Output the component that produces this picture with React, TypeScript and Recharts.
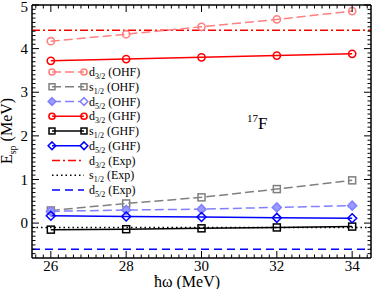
import { LineChart, Line, XAxis, YAxis, ReferenceLine, Legend, Customized } from 'recharts';

const FONT = '"Liberation Serif", "DejaVu Serif", serif';

// plot frame (pixels inside the 374x289 svg)
const PL = 32;
const PR = 371;
const PT = 5;
const PB = 258;

// data
const HW = [26, 28, 30, 32, 34];
const D32_OHF = [4.17, 4.33, 4.5, 4.67, 4.86];
const S12_OHF = [0.29, 0.45, 0.59, 0.78, 0.98];
const D52_OHF = [0.27, 0.3, 0.32, 0.36, 0.4];
const D32_GHF = [3.72, 3.76, 3.8, 3.84, 3.88];
const S12_GHF = [-0.15, -0.14, -0.12, -0.1, -0.08];
const D52_GHF = [0.17, 0.15, 0.14, 0.12, 0.11];
const EXP_VALUES = [4.42, -0.1, -0.6]; // d3/2, s1/2, d5/2

const X_MAJOR = [26, 28, 30, 32, 34];
const Y_MAJOR = [0, 1, 2, 3, 4, 5];
const X_TICKS: number[] = [];
for (let i = 0; i <= 44; i++) X_TICKS.push(Math.round((25.6 + i * 0.2) * 10) / 10);
const Y_TICKS: number[] = [];
for (let i = 0; i <= 57; i++) Y_TICKS.push(Math.round((-0.7 + i * 0.1) * 10) / 10);

const data = HW.map((x, i) => ({
  x,
  d32o: D32_OHF[i],
  s12o: S12_OHF[i],
  d52o: D52_OHF[i],
  d32g: D32_GHF[i],
  s12g: S12_GHF[i],
  d52g: D52_GHF[i],
}));

type Shape = 'circle' | 'square' | 'diamond' | 'none';

const SERIES = [
  { key: 'd32o', orb: 'd', sub: '3/2', tag: 'OHF', color: '#ff8080', dash: '9 4', shape: 'circle' as Shape, fill: 'none' },
  { key: 's12o', orb: 's', sub: '1/2', tag: 'OHF', color: '#808080', dash: '9 4', shape: 'square' as Shape, fill: 'none' },
  { key: 'd52o', orb: 'd', sub: '5/2', tag: 'OHF', color: '#8080ff', dash: '9 4', shape: 'diamond' as Shape, fill: '#9a9aff' },
  { key: 'd32g', orb: 'd', sub: '3/2', tag: 'GHF', color: '#ff0000', dash: undefined, shape: 'circle' as Shape, fill: 'none' },
  { key: 's12g', orb: 's', sub: '1/2', tag: 'GHF', color: '#000000', dash: undefined, shape: 'square' as Shape, fill: 'none' },
  { key: 'd52g', orb: 'd', sub: '5/2', tag: 'GHF', color: '#0000ff', dash: undefined, shape: 'diamond' as Shape, fill: 'none' },
];

const EXP = [
  { orb: 'd', sub: '3/2', tag: 'Exp', color: '#ff0000', dash: '8 3 2 3' },
  { orb: 's', sub: '1/2', tag: 'Exp', color: '#000000', dash: '1.5 3' },
  { orb: 'd', sub: '5/2', tag: 'Exp', color: '#0000ff', dash: '8 5' },
];

function Marker({ cx, cy, shape, color, fill, s = 1 }: { cx: number; cy: number; shape: Shape; color: string; fill: string; s?: number }) {
  if (shape === 'circle') return <circle cx={cx} cy={cy} r={3.6 * s} stroke={color} strokeWidth={1.6} fill={fill} />;
  if (shape === 'square')
    return <rect x={cx - 3.5 * s} y={cy - 3.5 * s} width={7 * s} height={7 * s} stroke={color} strokeWidth={1.5} fill={fill} />;
  if (shape === 'diamond') {
    const d = 4.5 * s;
    return (
      <polygon
        points={`${cx},${cy - d} ${cx + d},${cy} ${cx},${cy + d} ${cx - d},${cy}`}
        stroke={color}
        strokeWidth={1.5}
        fill={fill}
      />
    );
  }
  return null;
}

const isMajor = (v: number, list: number[]) => list.some((m) => Math.abs(m - v) < 1e-6);

function LeftTick({ y, payload }: any) {
  const v = payload.value;
  const major = isMajor(v, Y_MAJOR);
  return (
    <g>
      <line x1={PL} x2={PL + (major ? 7 : 3.5)} y1={y} y2={y} stroke="#000" strokeWidth={1} />
      {major && (
        <text x={PL - 4} y={y} dy={v === 5 ? '0.45em' : '0.35em'} textAnchor="end" fontFamily={FONT} fontSize={15} fill="#000">
          {v}
        </text>
      )}
    </g>
  );
}

function RightTick({ y, payload }: any) {
  const major = isMajor(payload.value, Y_MAJOR);
  return <line x1={PR} x2={PR - (major ? 7 : 3.5)} y1={y} y2={y} stroke="#000" strokeWidth={1} />;
}

function BottomTick({ x, payload }: any) {
  const v = payload.value;
  const major = isMajor(v, X_MAJOR);
  return (
    <g>
      <line x1={x} x2={x} y1={PB} y2={PB - (major ? 7 : 3.5)} stroke="#000" strokeWidth={1} />
      {major && (
        <text x={x} y={PB + 13} textAnchor="middle" fontFamily={FONT} fontSize={15} fill="#000">
          {v}
        </text>
      )}
    </g>
  );
}

function TopTick({ x, payload }: any) {
  const major = isMajor(payload.value, X_MAJOR);
  return <line x1={x} x2={x} y1={PT} y2={PT + (major ? 7 : 3.5)} stroke="#000" strokeWidth={1} />;
}

function Titles() {
  return (
    <g fontFamily={FONT} fill="#000">
      <text x={187} y={287} textAnchor="middle" fontSize={16}>
        ħω (MeV)
      </text>
      <text x={12} y={131} textAnchor="middle" fontSize={16} transform="rotate(-90 12 131)">
        E<tspan dy={4} fontSize={10}>sp</tspan>
        <tspan dy={-4}> (MeV)</tspan>
      </text>
      <text x={247} y={129} fontSize={17}>
        <tspan fontSize={11} dy={-7}>17</tspan>
        <tspan dy={7}>F</tspan>
      </text>
    </g>
  );
}

const LEG_LEFT = 44;
const LEG_TOP = 62;

function LegendBox() {
  const rows = [
    ...SERIES.map((s) => ({ ...s })),
    ...EXP.map((e) => ({ ...e, shape: 'none' as Shape, fill: 'none', key: e.orb + e.sub + e.tag })),
  ];
  return (
    <svg width={120} height={140} style={{ display: 'block' }}>
      {rows.map((r, i) => {
        const y = 72 - LEG_TOP + i * 14.75;
        const x1 = 52 - LEG_LEFT;
        const x2 = 84 - LEG_LEFT;
        return (
          <g key={r.key}>
            <line x1={x1} x2={x2} y1={y} y2={y} stroke={r.color} strokeWidth={1.5} strokeDasharray={r.dash} />
            <Marker cx={x1} cy={y} shape={r.shape} color={r.color} fill={r.fill} s={0.85} />
            <Marker cx={x2} cy={y} shape={r.shape} color={r.color} fill={r.shape === 'diamond' ? '#fff' : r.fill} s={0.85} />
            <text x={89 - LEG_LEFT} y={y + 4} fontFamily={FONT} fontSize={12} fill="#000">
              {r.orb}
              <tspan fontSize={8} dy={3}>{r.sub}</tspan>
              <tspan dy={-3}> ({r.tag})</tspan>
            </text>
          </g>
        );
      })}
    </svg>
  );
}

export default function App() {
  return (
    <div style={{ position: 'absolute', left: 0, top: 0, width: 374, height: 289, background: '#fff' }}>
      <LineChart width={374} height={289} data={data} margin={{ top: 4, right: 0, bottom: 0, left: 0 }}>
        <XAxis
          xAxisId="b"
          type="number"
          dataKey="x"
          domain={[25.5, 34.5]}
          allowDataOverflow
          ticks={X_TICKS}
          interval={0}
          tick={<BottomTick />}
          tickLine={false}
          axisLine={{ stroke: '#000', strokeWidth: 1.5 }}
          height={31}
        />
        <XAxis
          xAxisId="t"
          orientation="top"
          type="number"
          dataKey="x"
          domain={[25.5, 34.5]}
          allowDataOverflow
          ticks={X_TICKS}
          interval={0}
          tick={<TopTick />}
          tickLine={false}
          axisLine={{ stroke: '#000', strokeWidth: 1.5 }}
          height={1}
        />
        <YAxis
          yAxisId="l"
          type="number"
          domain={[-0.8, 5]}
          allowDataOverflow
          ticks={Y_TICKS}
          interval={0}
          tick={<LeftTick />}
          tickLine={false}
          axisLine={{ stroke: '#000', strokeWidth: 1.5 }}
          width={32}
        />
        <YAxis
          yAxisId="r"
          orientation="right"
          type="number"
          domain={[-0.8, 5]}
          allowDataOverflow
          ticks={Y_TICKS}
          interval={0}
          tick={<RightTick />}
          tickLine={false}
          axisLine={{ stroke: '#000', strokeWidth: 1.5 }}
          width={3}
        />
        {EXP.map((e, i) => (
          <ReferenceLine
            key={'exp' + i}
            xAxisId="b"
            yAxisId="l"
            y={EXP_VALUES[i]}
            stroke={e.color}
            strokeWidth={1.5}
            strokeDasharray={e.dash}
          />
        ))}
        {SERIES.map((s) => (
          <Line
            key={s.key}
            xAxisId="b"
            yAxisId="l"
            type="linear"
            dataKey={s.key}
            stroke={s.color}
            strokeWidth={1.5}
            strokeDasharray={s.dash}
            isAnimationActive={false}
            dot={(p: any) => <Marker key={s.key + p.index} cx={p.cx} cy={p.cy} shape={s.shape} color={s.color} fill={s.fill} />}
            activeDot={false}
          />
        ))}
        <Legend
          layout="vertical"
          align="center"
          verticalAlign="middle"
          content={<LegendBox />}
          wrapperStyle={{ left: LEG_LEFT, top: LEG_TOP, width: 120, height: 140 }}
        />
        <Customized component={Titles} />
      </LineChart>
    </div>
  );
}
